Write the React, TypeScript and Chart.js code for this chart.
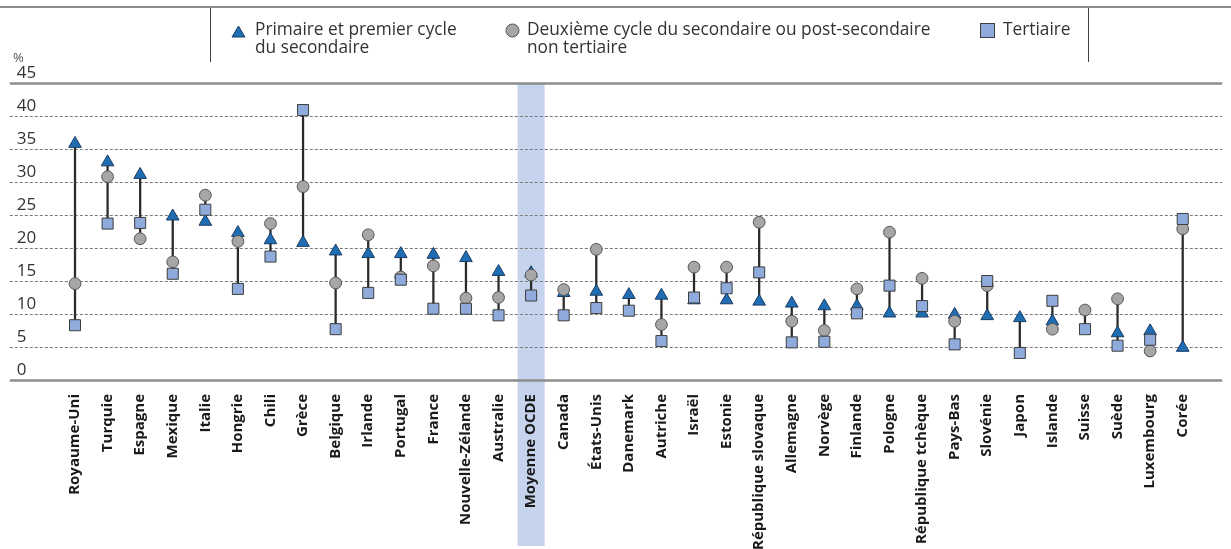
import React, { useEffect, useRef } from 'react';
import { Chart, registerables } from 'chart.js';

Chart.register(...registerables);

const countries = [
  'Royaume-Uni', 'Turquie', 'Espagne', 'Mexique', 'Italie', 'Hongrie', 'Chili', 'Grèce',
  'Belgique', 'Irlande', 'Portugal', 'France', 'Nouvelle-Zélande', 'Australie', 'Moyenne OCDE',
  'Canada', 'États-Unis', 'Danemark', 'Autriche', 'Israël', 'Estonie', 'République slovaque',
  'Allemagne', 'Norvège', 'Finlande', 'Pologne', 'République tchèque', 'Pays-Bas', 'Slovénie',
  'Japon', 'Islande', 'Suisse', 'Suède', 'Luxembourg', 'Corée',
];

const primaryValues: (number | null)[] = [
  35.8, 33.0, 31.1, 24.8, 24.0, 22.3, 21.2, 20.8, 19.5, 19.1, 19.1, 19.0, 18.5, 16.4, 16.2,
  13.2, 13.4, 12.9, 12.8, 12.1, 12.1, 11.9, 11.6, 11.2, 11.2, 10.1, 10.1, 9.9, 9.7, 9.4,
  8.9, null, 7.1, 7.4, 4.9,
];

const upperSecondaryValues: (number | null)[] = [
  14.6, 30.8, 21.4, 17.9, 28.0, 21.0, 23.7, 29.3, 14.7, 22.0, 15.6, 17.3, 12.4, 12.5, 15.9,
  13.7, 19.8, null, 8.4, 17.1, 17.1, 23.9, 8.9, 7.5, 13.8, 22.4, 15.4, 8.9, 14.3, null,
  7.7, 10.6, 12.3, 4.4, 22.9,
];

const tertiaryValues: (number | null)[] = [
  8.3, 23.7, 23.8, 16.1, 25.8, 13.8, 18.7, 40.9, 7.7, 13.2, 15.2, 10.8, 10.8, 9.8, 12.8,
  9.8, 10.9, 10.5, 5.9, 12.5, 13.9, 16.3, 5.7, 5.8, 10.1, 14.3, 11.2, 5.4, 15.0, 4.1,
  12.0, 7.7, 5.2, 6.1, 24.4,
];

const yTickValues = [0, 5, 10, 15, 20, 25, 30, 35, 40, 45];
const highlightCategory = 'Moyenne OCDE';

const seriesNames = [
  'Primaire et premier cycle du secondaire',
  'Deuxième cycle du secondaire ou post-secondaire non tertiaire',
  'Tertiaire',
];

const FONT = '"Open Sans", sans-serif';

export default function App() {
  const canvasRef = useRef<HTMLCanvasElement>(null);

  useEffect(() => {
    document.body.style.margin = '0';
    const canvas = canvasRef.current;
    if (!canvas) return;

    const ranges = countries.map((_, i) => {
      const vals = [primaryValues[i], upperSecondaryValues[i], tertiaryValues[i]].filter(
        (v) => v !== null && v !== undefined
      ) as number[];
      return { x: i, y: [Math.min(...vals), Math.max(...vals)] };
    });
    const toPoints = (arr: (number | null)[]) => arr.map((v, i) => ({ x: i, y: v }));
    const hi = countries.indexOf(highlightCategory);

    const backdrop = {
      id: 'backdrop',
      beforeDraw(chart: any) {
        const { ctx, chartArea } = chart;
        const xs = chart.scales.x;
        const ys = chart.scales.y;
        ctx.save();
        const cx = xs.getPixelForValue(hi);
        const hw = xs.getPixelForValue(hi + 0.415) - cx;
        const top = ys.getPixelForValue(45);
        ctx.fillStyle = '#c6d3ec';
        ctx.fillRect(cx - hw, top, hw * 2, chart.height - 3 - top);
        yTickValues.forEach((v) => {
          const y = Math.round(ys.getPixelForValue(v));
          ctx.beginPath();
          if (v === 0 || v === 45) {
            ctx.setLineDash([]);
            ctx.lineWidth = 2.5;
            ctx.strokeStyle = '#8c8c8c';
          } else {
            ctx.setLineDash([3, 2]);
            ctx.lineWidth = 1;
            ctx.strokeStyle = '#7a7a7a';
          }
          ctx.moveTo(chartArea.left + 1, y + 0.5);
          ctx.lineTo(chartArea.right, y + 0.5);
          ctx.stroke();
        });
        ctx.restore();
      },
    };

    const chart = new Chart(canvas, {
      type: 'scatter',
      data: {
        datasets: [
          {
            type: 'scatter',
            label: seriesNames[2],
            data: toPoints(tertiaryValues),
            pointStyle: 'rect',
            pointRadius: 7.8,
            backgroundColor: '#8eabdc',
            borderColor: '#3d3d3d',
            borderWidth: 1,
            order: 0,
          } as any,
          {
            type: 'scatter',
            label: seriesNames[1],
            data: toPoints(upperSecondaryValues),
            pointStyle: 'circle',
            pointRadius: 5.9,
            backgroundColor: '#a6a6a6',
            borderColor: '#555555',
            borderWidth: 1,
            order: 1,
          } as any,
          {
            type: 'scatter',
            label: seriesNames[0],
            data: toPoints(primaryValues),
            pointStyle: 'triangle',
            pointRadius: 7.3,
            backgroundColor: '#1f6db3',
            borderColor: '#1b3d63',
            borderWidth: 1,
            order: 2,
          } as any,
          {
            type: 'bar',
            label: 'range',
            data: ranges,
            backgroundColor: '#2a2a2a',
            borderWidth: 0,
            barThickness: 1.6,
            order: 3,
          } as any,
        ],
      },
      options: {
        animation: false,
        responsive: false,
        devicePixelRatio: 1,
        layout: { padding: { top: 83, left: 6, right: 0, bottom: 0 } },
        plugins: { legend: { display: false }, tooltip: { enabled: false } },
        scales: {
          x: {
            type: 'linear',
            min: -1.5,
            max: 34.68,
            grid: { display: false },
            border: { display: false },
            afterBuildTicks: (scale: any) => {
              scale.ticks = countries.map((_, i) => ({ value: i }));
            },
            afterFit: (scale: any) => {
              scale.height = 169;
            },
            ticks: {
              autoSkip: false,
              maxRotation: 90,
              minRotation: 90,
              padding: 6,
              color: '#1a1a1a',
              font: { family: FONT, size: 15, weight: 'bold' },
              callback: (v: any) => countries[v as number] ?? '',
            },
          },
          y: {
            min: 0,
            max: 45,
            grid: { display: false },
            border: { display: false },
            afterBuildTicks: (scale: any) => {
              scale.ticks = yTickValues.map((v) => ({ value: v }));
            },
            afterFit: (scale: any) => {
              scale.width = 0;
            },
            ticks: {
              mirror: true,
              padding: 8,
              labelOffset: -10,
              color: '#333333',
              font: { family: FONT, size: 17 },
            },
          },
        },
      },
      plugins: [backdrop],
    });

    return () => chart.destroy();
  }, []);

  const textStyle: React.CSSProperties = {
    position: 'absolute',
    fontFamily: FONT,
    fontSize: 17.3,
    lineHeight: '17.5px',
    color: '#333333',
    whiteSpace: 'nowrap',
  };

  return (
    <div style={{ position: 'relative', width: 1231, height: 549, overflow: 'hidden', background: '#fff' }}>
      <canvas ref={canvasRef} width={1231} height={549} style={{ position: 'absolute', left: 0, top: 0 }} />
      <div style={{ position: 'absolute', left: 0, top: 6, width: 1231, height: 2, background: '#8c8c8c' }} />
      <div style={{ position: 'absolute', left: 210, top: 8, width: 1, height: 54, background: '#444' }} />
      <div style={{ position: 'absolute', left: 1088, top: 8, width: 1, height: 54, background: '#444' }} />

      <svg style={{ position: 'absolute', left: 231, top: 25 }} width={15} height={13}>
        <polygon points="7.5,1 14,12 1,12" fill="#1f6db3" stroke="#1b3d63" strokeWidth={1} />
      </svg>
      <div style={{ ...textStyle, left: 255, top: 20 }}>
        Primaire et premier cycle
        <br />
        du secondaire
      </div>

      <svg style={{ position: 'absolute', left: 505, top: 23 }} width={15} height={15}>
        <circle cx={7.5} cy={7.5} r={6.5} fill="#a6a6a6" stroke="#555" strokeWidth={1} />
      </svg>
      <div style={{ ...textStyle, left: 527, top: 20 }}>
        Deuxième cycle du secondaire ou post-secondaire
        <br />
        non tertiaire
      </div>

      <svg style={{ position: 'absolute', left: 980, top: 23 }} width={15} height={15}>
        <rect x={0.5} y={0.5} width={14} height={14} fill="#8eabdc" stroke="#3d3d3d" strokeWidth={1} />
      </svg>
      <div style={{ ...textStyle, left: 1003, top: 20 }}>Tertiaire</div>

      <div style={{ position: 'absolute', left: 13, top: 48, fontFamily: FONT, fontSize: 13, color: '#555' }}>%</div>
    </div>
  );
}
